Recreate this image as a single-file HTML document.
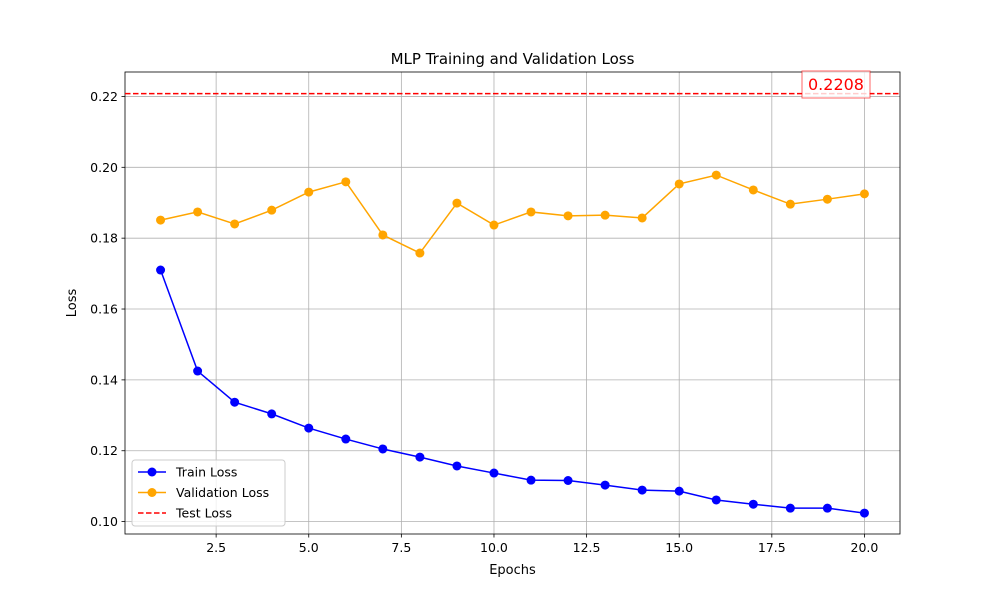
<!DOCTYPE html>
<html><head><meta charset="utf-8"><style>
body{margin:0;background:#fff;font-family:"Liberation Sans","DejaVu Sans",sans-serif;}
svg text{font-family:"DejaVu Sans","Liberation Sans",sans-serif;}
</style></head><body>
<svg id="chart" width="1000" height="600" xmlns="http://www.w3.org/2000/svg">
<rect width="1000" height="600" fill="#fff"/>
<g id="grid"></g><g id="axes"></g><g id="series"></g><g id="legend"></g>
</svg>
<script>
const epochs=[1,2,3,4,5,6,7,8,9,10,11,12,13,14,15,16,17,18,19,20];
const trainLoss=[0.171,0.1425,0.1337,0.1304,0.1264,0.1233,0.1205,0.1182,0.1157,0.1137,0.1117,0.1116,0.1103,0.1089,0.1086,0.1061,0.1049,0.1038,0.1038,0.1024];
const valLoss=[0.1851,0.1874,0.184,0.1879,0.193,0.1959,0.1809,0.1758,0.1899,0.1837,0.1874,0.1863,0.1865,0.1857,0.1953,0.1978,0.1936,0.1896,0.191,0.1925];
const testLoss=[0.2208];
const xTicks=[2.5,5.0,7.5,10.0,12.5,15.0,17.5,20.0];
const yTicks=[0.10,0.12,0.14,0.16,0.18,0.20,0.22];
const L=125,R=900,T=72,B=534;
const xmin=0.04,xmax=20.96,ymin=0.0965,ymax=0.2269;
const X=v=>L+(v-xmin)/(xmax-xmin)*(R-L);
const Y=v=>B-(v-ymin)/(ymax-ymin)*(B-T);
const NS="http://www.w3.org/2000/svg";
function mk(tag,attrs,parent,txt){const e=document.createElementNS(NS,tag);for(const k in attrs)e.setAttribute(k,attrs[k]);if(txt!=null)e.textContent=txt;parent.appendChild(e);return e;}
const grid=document.getElementById('grid'),axes=document.getElementById('axes'),ser=document.getElementById('series'),leg=document.getElementById('legend');
xTicks.forEach(t=>{const x=X(t);
 let g=mk('line',{x1:x,x2:x,y1:T,y2:B,stroke:'#b0b0b0','stroke-width':0.8},grid);
 
 mk('line',{x1:x,x2:x,y1:B,y2:B+3.5,stroke:'#000','stroke-width':0.8},axes);
 let l=mk('text',{x:x,y:B+18,'text-anchor':'middle','font-size':12.5},axes,t.toFixed(1));
 });
yTicks.forEach(t=>{const y=Y(t);
 let g=mk('line',{x1:L,x2:R,y1:y,y2:y,stroke:'#b0b0b0','stroke-width':0.8},grid);
 
 mk('line',{x1:L-3.5,x2:L,y1:y,y2:y,stroke:'#000','stroke-width':0.8},axes);
 let l=mk('text',{x:L-7,y:y+4.5,'text-anchor':'end','font-size':12.5},axes,t.toFixed(2));
 });
let fr=mk('rect',{x:L,y:T,width:R-L,height:B-T,fill:'none',stroke:'#000','stroke-width':0.8},axes);

let tt=mk('text',{x:(L+R)/2,y:64,'text-anchor':'middle','font-size':15},axes,'MLP Training and Validation Loss');

let xl=mk('text',{x:(L+R)/2,y:574,'text-anchor':'middle','font-size':13},axes,'Epochs');

let yl=mk('text',{x:76,y:(T+B)/2,'text-anchor':'middle','font-size':13,transform:`rotate(-90 76 ${(T+B)/2})`},axes,'Loss');

// test line
const ty=Y(testLoss[0]);
let tl=mk('line',{x1:L,x2:R,y1:ty,y2:ty,stroke:'red','stroke-width':1.5,'stroke-dasharray':'5.5,2.5'},ser);

let tb=mk('rect',{x:802,y:71,width:68,height:27,fill:'#fff','fill-opacity':0.8,stroke:'red','stroke-opacity':0.6},ser);

let tv=mk('text',{x:836,y:90,'text-anchor':'middle','font-size':16,fill:'red'},ser,testLoss[0].toFixed(4));

function series(vals,color,name){
 const pts=vals.map((v,i)=>X(epochs[i])+','+Y(v)).join(' ');
 let p=mk('polyline',{points:pts,fill:'none',stroke:color,'stroke-width':1.5},ser);
 
 vals.forEach((v,i)=>{let c=mk('circle',{cx:X(epochs[i]),cy:Y(v),r:4.5,fill:color},ser);
  });
}
series(trainLoss,'blue','train-loss');
series(valLoss,'orange','validation-loss');
let lb=mk('rect',{x:132,y:460,width:153,height:66,fill:'#fff','fill-opacity':0.8,stroke:'#ccc',rx:3},leg);

[['Train Loss','blue',false,'legend-train'],['Validation Loss','orange',false,'legend-validation'],['Test Loss','red',true,'legend-test']].forEach((e,i)=>{
 const y=472+i*20.5;
 let ln=mk('line',{x1:138,x2:166,y1:y,y2:y,stroke:e[1],'stroke-width':1.5},leg);
 if(e[2])ln.setAttribute('stroke-dasharray','5.5,2.5');
 if(!e[2])mk('circle',{cx:152,cy:y,r:4.5,fill:e[1]},leg);
 let t=mk('text',{x:176,y:y+4.5,'font-size':12.5},leg,e[0]);
 });
</script>
</body></html>
